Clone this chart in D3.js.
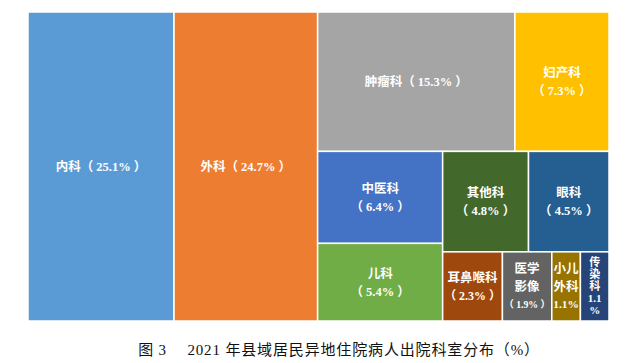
<!DOCTYPE html>
<html>
<head>
<meta charset="utf-8">
<script src="https://cdn.jsdelivr.net/npm/d3@7"></script>
<style>
  html, body { margin: 0; padding: 0; background: #fff; }
  svg { display: block; }
</style>
</head>
<body>
<div id="chart"></div>
<script>
// department share of out-of-county inpatients, 2021 (%)
var depts = ['内科', '外科', '肿瘤科', '妇产科', '中医科', '儿科', '其他科', '眼科', '耳鼻喉科', '医学影像', '小儿外科', '传染科'];
var shares = [25.1, 24.7, 15.3, 7.3, 6.4, 5.4, 4.8, 4.5, 2.3, 1.9, 1.1, 1.1];
var colors = ['#5b9bd5', '#ed7d31', '#a5a5a5', '#ffc000', '#4472c4', '#70ad47', '#43682b', '#255e91', '#9e480e', '#636363', '#997300', '#264478'];
var nameLines = [['内科'], ['外科'], ['肿瘤科'], ['妇产科'], ['中医科'], ['儿科'], ['其他科'], ['眼科'], ['耳鼻喉科'], ['医学', '影像'], ['小儿', '外科'], ['传', '染', '科']];
// how the percentage is attached to the name
var pctStyle = ['inline', 'inline', 'inline', 'wrap', 'wrap', 'wrap', 'wrap', 'wrap', 'wrap', 'wrap', 'bare', 'split'];
var caption = '图 3　 2021 年县域居民异地住院病人出院科室分布（%）';

var width = 634, height = 363;
var area = {x0: 28, y0: 12, x1: 609, y1: 321};

function leaf(i) {
  return {name: depts[i], value: shares[i], color: colors[i], lines: nameLines[i], style: pctStyle[i]};
}

// nesting mirrors the Excel treemap arrangement
var tree = {name: 'root', dir: 'dice', children: [
  leaf(0), leaf(1),
  {dir: 'slice', children: [
    {dir: 'dice', children: [leaf(2), leaf(3)]},
    {dir: 'dice', children: [
      {dir: 'slice', children: [leaf(4), leaf(5)]},
      {dir: 'slice', children: [
        {dir: 'dice', children: [leaf(6), leaf(7)]},
        {dir: 'dice', children: [leaf(8), leaf(9), leaf(10), leaf(11)]}
      ]}
    ]}
  ]}
]};

var root = d3.hierarchy(tree).sum(function (d) { return d.children ? 0 : d.value; });

d3.treemap()
  .size([area.x1 - area.x0, area.y1 - area.y0])
  .tile(function (node, x0, y0, x1, y1) {
    (node.data.dir === 'slice' ? d3.treemapSlice : d3.treemapDice)(node, x0, y0, x1, y1);
  })(root);

var svg = d3.select('#chart').append('svg')
  .attr('width', width)
  .attr('height', height);

var g = svg.append('g').attr('transform', 'translate(' + area.x0 + ',' + area.y0 + ')');

var cells = g.selectAll('g.cell')
  .data(root.leaves())
  .join('g')
  .attr('class', 'cell')
  .attr('transform', function (d) { return 'translate(' + d.x0 + ',' + d.y0 + ')'; });

cells.append('rect')
  .attr('width', function (d) { return d.x1 - d.x0; })
  .attr('height', function (d) { return d.y1 - d.y0; })
  .attr('fill', function (d) { return d.data.color; })
  .attr('stroke', '#fff')
  .attr('stroke-width', 1.5);

function labelLines(d) {
  var v = d3.format('.1f')(d.data.value);
  var ls = d.data.lines.slice();
  if (d.data.style === 'inline') ls[ls.length - 1] += '（ ' + v + '% ）';
  else if (d.data.style === 'wrap') ls.push('（ ' + v + '% ）');
  else if (d.data.style === 'bare') ls.push(v + '%');
  else { ls.push(v); ls.push('%'); }
  return ls;
}

cells.each(function (d) {
  var ls = labelLines(d);
  var split = d.data.style === 'split';
  var lh = split ? 12 : 18;
  var fs = split ? 11 : 12.5;
  var w = d.x1 - d.x0;
  var cx = w / 2, cy = (d.y1 - d.y0) / 2;
  var text = d3.select(this).append('text')
    .attr('text-anchor', 'middle')
    .attr('fill', '#fff')
    .attr('font-weight', 'bold')
    .attr('font-size', fs)
    .style('font-family', '"Liberation Serif", "Noto Sans CJK SC", sans-serif');
  ls.forEach(function (s, k) {
    var t = text.append('tspan')
      .attr('x', cx)
      .attr('y', cy + (k - (ls.length - 1) / 2) * lh)
      .attr('dy', '0.35em')
      .text(s);
    // shrink a line that would spill out of a narrow cell
    var tw = t.node().getComputedTextLength();
    if (tw > w - 3) t.attr('font-size', fs * (w - 3) / tw);
  });
});

svg.append('text')
  .attr('x', 339)
  .attr('y', 355)
  .attr('text-anchor', 'middle')
  .attr('fill', '#111')
  .attr('font-size', 15)
  .attr('letter-spacing', 0.85)
  .style('font-family', '"Liberation Serif", "Noto Sans CJK SC", serif')
  .text(caption);
</script>
</body>
</html>
